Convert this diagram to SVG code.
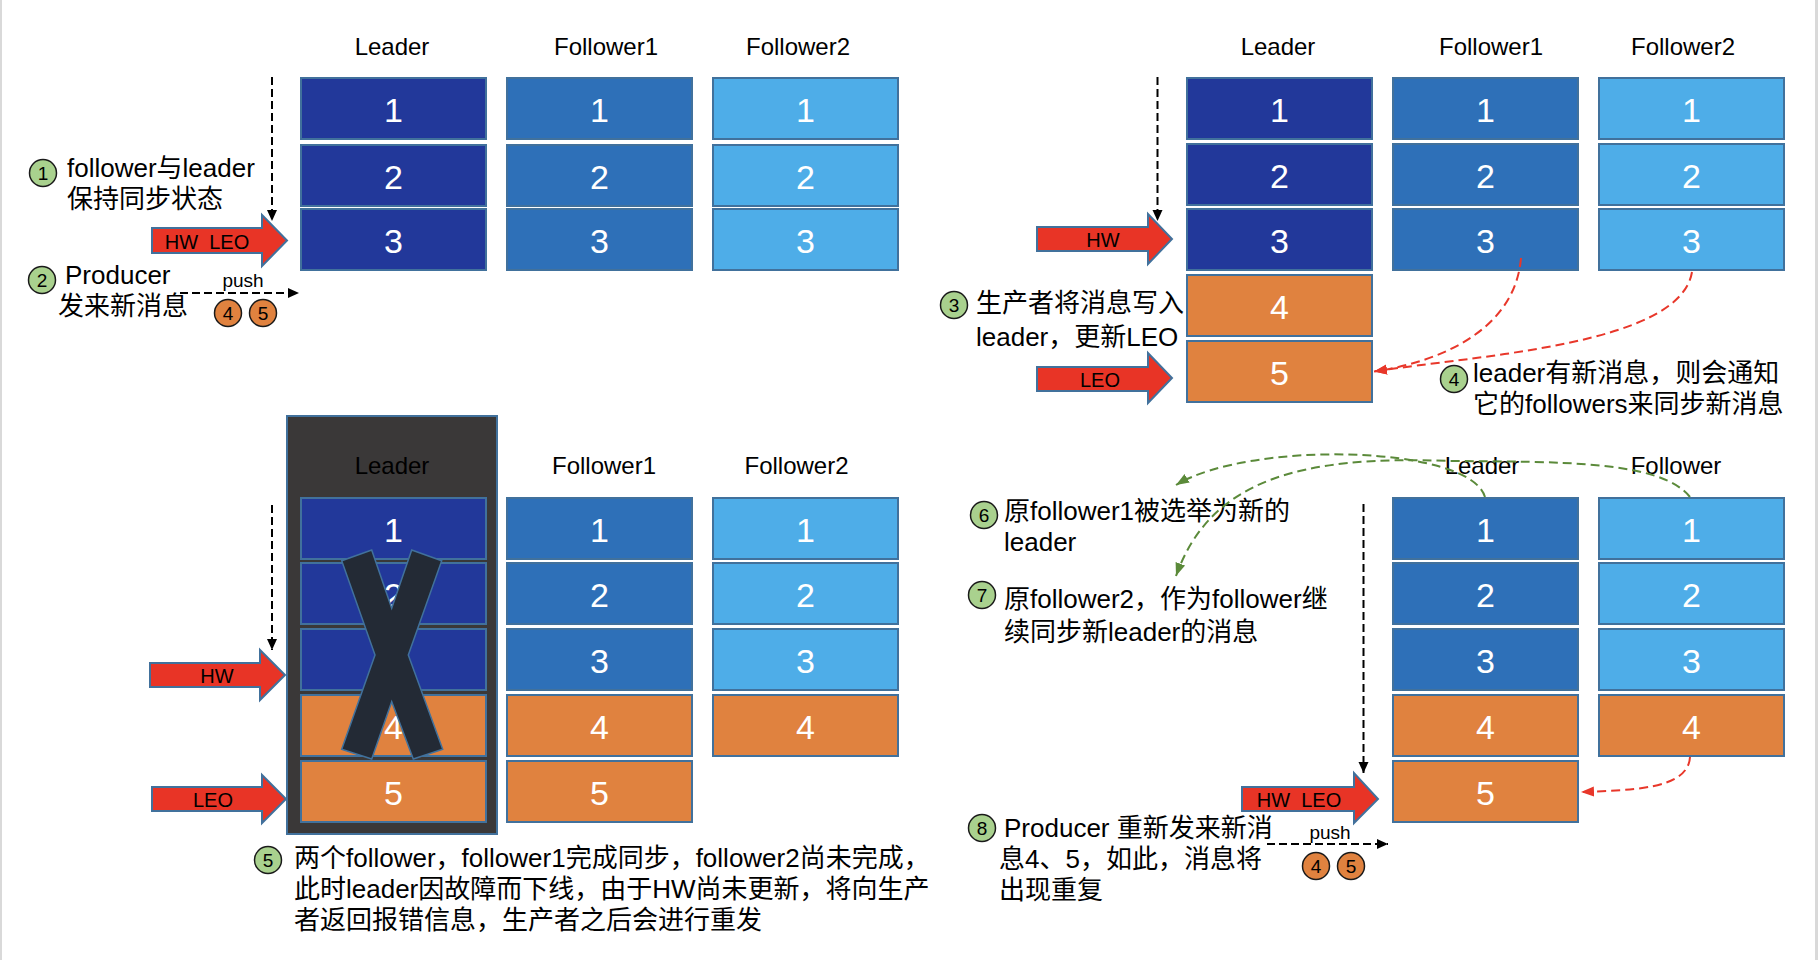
<svg xmlns="http://www.w3.org/2000/svg" width="1818" height="960" viewBox="0 0 1818 960">
<style>
text{font-family:"Liberation Sans","Noto Sans CJK SC",sans-serif;}
.bg{fill:#ffffff;}
.frame{fill:#D9D9D9;}
.cell{stroke:#41719C;stroke-width:2;}
.ld{fill:#22389A;}
.f1{fill:#2E70B8;}
.f2{fill:#4EADE8;}
.or{fill:#E0823F;}
.num{font-size:34px;fill:#ffffff;text-anchor:middle;}
.hdr{font-size:24px;fill:#000000;text-anchor:middle;}
.txt{font-size:26px;fill:#000000;}
.arrow{fill:#E83426;stroke:#41719C;stroke-width:2;}
.atx{font-size:20px;fill:#000000;text-anchor:middle;}
.gc{fill:#A9D18E;stroke:#1A1A1A;stroke-width:1.5;}
.oc{fill:#E0823F;stroke:#1A1A1A;stroke-width:1.5;}
.cn{font-size:19px;fill:#000000;text-anchor:middle;}
.push{font-size:19px;fill:#000000;text-anchor:middle;}
.dk{fill:none;stroke:#000000;stroke-width:2;stroke-dasharray:8 4;}
.dr{fill:none;stroke:#E8372A;stroke-width:2;stroke-dasharray:9 5;}
.dg{fill:none;stroke:#5B8A3A;stroke-width:2;stroke-dasharray:9 5;}
</style>
<defs>
<marker id="mk" markerUnits="userSpaceOnUse" markerWidth="12" markerHeight="12" refX="11" refY="6" orient="auto"><path d="M0,1 L11,6 L0,11 z" fill="#000000"/></marker>
<marker id="mr" markerUnits="userSpaceOnUse" markerWidth="14" markerHeight="12" refX="13" refY="6" orient="auto"><path d="M0,1 L13,6 L0,11 z" fill="#E8372A"/></marker>
<marker id="mg" markerUnits="userSpaceOnUse" markerWidth="14" markerHeight="12" refX="13" refY="6" orient="auto"><path d="M0,1 L13,6 L0,11 z" fill="#5B8A3A"/></marker>
</defs>
<rect class="bg" x="0" y="0" width="1818" height="960"/>
<rect class="frame" x="0" y="0" width="2" height="960"/>
<rect class="frame" x="1815" y="0" width="3" height="960"/>

<!-- ===== Top-left panel ===== -->
<g id="tl-headers">
<text class="hdr" x="392" y="54.5">Leader</text>
<text class="hdr" x="606" y="54.5">Follower1</text>
<text class="hdr" x="798" y="54.5">Follower2</text>
</g>
<g id="tl-leader">
<rect class="cell ld" x="301" y="78" width="185" height="61"/><text class="num" x="393.5" y="121.5">1</text>
<rect class="cell ld" x="301" y="145" width="185" height="61"/><text class="num" x="393.5" y="188.5">2</text>
<rect class="cell ld" x="301" y="209" width="185" height="61"/><text class="num" x="393.5" y="252.5">3</text>
</g>
<g id="tl-follower1">
<rect class="cell f1" x="507" y="78" width="185" height="61"/><text class="num" x="599.5" y="121.5">1</text>
<rect class="cell f1" x="507" y="145" width="185" height="61"/><text class="num" x="599.5" y="188.5">2</text>
<rect class="cell f1" x="507" y="209" width="185" height="61"/><text class="num" x="599.5" y="252.5">3</text>
</g>
<g id="tl-follower2">
<rect class="cell f2" x="713" y="78" width="185" height="61"/><text class="num" x="805.5" y="121.5">1</text>
<rect class="cell f2" x="713" y="145" width="185" height="61"/><text class="num" x="805.5" y="188.5">2</text>
<rect class="cell f2" x="713" y="209" width="185" height="61"/><text class="num" x="805.5" y="252.5">3</text>
</g>
<g id="tl-hwleo">
<polygon class="arrow" points="152,228 262,228 262,215 287,240.5 262,266 262,253 152,253"/>
<text class="atx" x="207" y="249">HW&#160;&#160;LEO</text>
</g>
<g id="tl-step1">
<circle class="gc" cx="43" cy="173" r="13.5"/><text class="cn" x="43" y="180">1</text>
<text class="txt" x="67" y="177">follower与leader</text>
<text class="txt" x="67" y="208">保持同步状态</text>
</g>
<g id="tl-step2">
<circle class="gc" cx="42" cy="280" r="13.5"/><text class="cn" x="42" y="287">2</text>
<text class="txt" x="65" y="284">Producer</text>
<text class="txt" x="58" y="315">发来新消息</text>
</g>
<g id="tl-msgs">
<text class="push" x="243" y="287">push</text>
<circle class="oc" cx="228" cy="313" r="13.5"/><text class="cn" x="228" y="320">4</text>
<circle class="oc" cx="263" cy="313" r="13.5"/><text class="cn" x="263" y="320">5</text>
</g>

<!-- ===== Top-right panel ===== -->
<g id="tr-headers">
<text class="hdr" x="1278" y="54.5">Leader</text>
<text class="hdr" x="1491" y="54.5">Follower1</text>
<text class="hdr" x="1683" y="54.5">Follower2</text>
</g>
<g id="tr-leader">
<rect class="cell ld" x="1187" y="78" width="185" height="61"/><text class="num" x="1279.5" y="121.5">1</text>
<rect class="cell ld" x="1187" y="144" width="185" height="61"/><text class="num" x="1279.5" y="187.5">2</text>
<rect class="cell ld" x="1187" y="209" width="185" height="61"/><text class="num" x="1279.5" y="252.5">3</text>
<rect class="cell or" x="1187" y="275" width="185" height="61"/><text class="num" x="1279.5" y="318.5">4</text>
<rect class="cell or" x="1187" y="341" width="185" height="61"/><text class="num" x="1279.5" y="384.5">5</text>
</g>
<g id="tr-follower1">
<rect class="cell f1" x="1393" y="78" width="185" height="61"/><text class="num" x="1485.5" y="121.5">1</text>
<rect class="cell f1" x="1393" y="144" width="185" height="61"/><text class="num" x="1485.5" y="187.5">2</text>
<rect class="cell f1" x="1393" y="209" width="185" height="61"/><text class="num" x="1485.5" y="252.5">3</text>
</g>
<g id="tr-follower2">
<rect class="cell f2" x="1599" y="78" width="185" height="61"/><text class="num" x="1691.5" y="121.5">1</text>
<rect class="cell f2" x="1599" y="144" width="185" height="61"/><text class="num" x="1691.5" y="187.5">2</text>
<rect class="cell f2" x="1599" y="209" width="185" height="61"/><text class="num" x="1691.5" y="252.5">3</text>
</g>
<g id="tr-hw">
<polygon class="arrow" points="1037,227 1148,227 1148,214 1172,239 1148,264 1148,251 1037,251"/>
<text class="atx" x="1103" y="247">HW</text>
</g>
<g id="tr-leo">
<polygon class="arrow" points="1037,367 1148,367 1148,353 1172,378 1148,403 1148,391 1037,391"/>
<text class="atx" x="1100" y="387">LEO</text>
</g>
<g id="tr-step3">
<circle class="gc" cx="954" cy="305" r="13.5"/><text class="cn" x="954" y="312">3</text>
<text class="txt" x="976" y="312">生产者将消息写入</text>
<text class="txt" x="976" y="346">leader，更新LEO</text>
</g>
<g id="tr-step4">
<circle class="gc" cx="1454" cy="379" r="13.5"/><text class="cn" x="1454" y="386">4</text>
<text class="txt" x="1473" y="382">leader有新消息，则会通知</text>
<text class="txt" x="1473" y="413">它的followers来同步新消息</text>
</g>

<!-- ===== Bottom-left panel ===== -->
<g id="bl-leader">
<rect x="287" y="416" width="210" height="418" fill="#3A3838" stroke="#41719C" stroke-width="2"/>
<text class="hdr" x="392" y="474">Leader</text>
<rect class="cell ld" x="301" y="498" width="185" height="61"/><text class="num" x="393.5" y="541.5">1</text>
<rect class="cell ld" x="301" y="563" width="185" height="61"/><text class="num" x="393.5" y="606.5">2</text>
<rect class="cell ld" x="301" y="629" width="185" height="61"/><text class="num" x="393.5" y="672.5">3</text>
<rect class="cell or" x="301" y="695" width="185" height="61"/><text class="num" x="393.5" y="738.5">4</text>
<rect class="cell or" x="301" y="761" width="185" height="61"/><text class="num" x="393.5" y="804.5">5</text>
<polygon points="341.7,560.7 371.7,550 391.7,608.3 411.7,550 441.7,560.7 408.3,655 442.7,749.3 413.3,759 391.7,701.7 371.7,759 341.7,749.3 375,655" fill="#232A35" stroke="#41719C" stroke-width="1.5"/>
</g>
<g id="bl-headers">
<text class="hdr" x="604" y="474">Follower1</text>
<text class="hdr" x="796.5" y="474">Follower2</text>
</g>
<g id="bl-follower1">
<rect class="cell f1" x="507" y="498" width="185" height="61"/><text class="num" x="599.5" y="541.5">1</text>
<rect class="cell f1" x="507" y="563" width="185" height="61"/><text class="num" x="599.5" y="606.5">2</text>
<rect class="cell f1" x="507" y="629" width="185" height="61"/><text class="num" x="599.5" y="672.5">3</text>
<rect class="cell or" x="507" y="695" width="185" height="61"/><text class="num" x="599.5" y="738.5">4</text>
<rect class="cell or" x="507" y="761" width="185" height="61"/><text class="num" x="599.5" y="804.5">5</text>
</g>
<g id="bl-follower2">
<rect class="cell f2" x="713" y="498" width="185" height="61"/><text class="num" x="805.5" y="541.5">1</text>
<rect class="cell f2" x="713" y="563" width="185" height="61"/><text class="num" x="805.5" y="606.5">2</text>
<rect class="cell f2" x="713" y="629" width="185" height="61"/><text class="num" x="805.5" y="672.5">3</text>
<rect class="cell or" x="713" y="695" width="185" height="61"/><text class="num" x="805.5" y="738.5">4</text>
</g>
<g id="bl-hw">
<polygon class="arrow" points="150,663 260,663 260,650 285,675 260,700 260,687 150,687"/>
<text class="atx" x="217" y="683">HW</text>
</g>
<g id="bl-leo">
<polygon class="arrow" points="152,787 262,787 262,775 286,799 262,823 262,811 152,811"/>
<text class="atx" x="213" y="807">LEO</text>
</g>
<g id="bl-step5">
<circle class="gc" cx="268" cy="860" r="13.5"/><text class="cn" x="268" y="867">5</text>
<text class="txt" x="294" y="867">两个follower，follower1完成同步，follower2尚未完成，</text>
<text class="txt" x="294" y="898">此时leader因故障而下线，由于HW尚未更新，将向生产</text>
<text class="txt" x="294" y="929">者返回报错信息，生产者之后会进行重发</text>
</g>

<!-- ===== Bottom-right panel ===== -->
<g id="br-headers">
<text class="hdr" x="1482" y="474">Leader</text>
<text class="hdr" x="1676" y="474">Follower</text>
</g>
<g id="br-leader">
<rect class="cell f1" x="1393" y="498" width="185" height="61"/><text class="num" x="1485.5" y="541.5">1</text>
<rect class="cell f1" x="1393" y="563" width="185" height="61"/><text class="num" x="1485.5" y="606.5">2</text>
<rect class="cell f1" x="1393" y="629" width="185" height="61"/><text class="num" x="1485.5" y="672.5">3</text>
<rect class="cell or" x="1393" y="695" width="185" height="61"/><text class="num" x="1485.5" y="738.5">4</text>
<rect class="cell or" x="1393" y="761" width="185" height="61"/><text class="num" x="1485.5" y="804.5">5</text>
</g>
<g id="br-follower">
<rect class="cell f2" x="1599" y="498" width="185" height="61"/><text class="num" x="1691.5" y="541.5">1</text>
<rect class="cell f2" x="1599" y="563" width="185" height="61"/><text class="num" x="1691.5" y="606.5">2</text>
<rect class="cell f2" x="1599" y="629" width="185" height="61"/><text class="num" x="1691.5" y="672.5">3</text>
<rect class="cell or" x="1599" y="695" width="185" height="61"/><text class="num" x="1691.5" y="738.5">4</text>
</g>
<g id="br-hwleo">
<polygon class="arrow" points="1242,787 1354,787 1354,773 1378,799 1354,823 1354,811 1242,811"/>
<text class="atx" x="1299" y="807">HW&#160;&#160;LEO</text>
</g>
<g id="br-step6">
<circle class="gc" cx="984" cy="515" r="13.5"/><text class="cn" x="984" y="522">6</text>
<text class="txt" x="1004" y="520">原follower1被选举为新的</text>
<text class="txt" x="1004" y="551">leader</text>
</g>
<g id="br-step7">
<circle class="gc" cx="982" cy="595" r="13.5"/><text class="cn" x="982" y="602">7</text>
<text class="txt" x="1004" y="608">原follower2，作为follower继</text>
<text class="txt" x="1004" y="641">续同步新leader的消息</text>
</g>
<g id="br-step8">
<circle class="gc" cx="982" cy="828" r="13.5"/><text class="cn" x="982" y="835">8</text>
<text class="txt" x="1004" y="837">Producer 重新发来新消</text>
<text class="txt" x="999" y="868">息4、5，如此，消息将</text>
<text class="txt" x="999" y="899">出现重复</text>
</g>
<g id="br-msgs">
<text class="push" x="1330" y="839">push</text>
<circle class="oc" cx="1316" cy="866" r="13.5"/><text class="cn" x="1316" y="873">4</text>
<circle class="oc" cx="1351" cy="866" r="13.5"/><text class="cn" x="1351" y="873">5</text>
</g>

<!-- ===== Connectors ===== -->
<g id="connectors">
<path class="dk" d="M272,77 L272,221" marker-end="url(#mk)"/>
<path class="dk" d="M180,293 L299,293" marker-end="url(#mk)"/>
<path class="dk" d="M1157.5,77 L1157.5,221" marker-end="url(#mk)"/>
<path class="dk" d="M272,505 L272,650" marker-end="url(#mk)"/>
<path class="dk" d="M1363.5,504 L1363.5,773" marker-end="url(#mk)"/>
<path class="dk" d="M1267,844 L1388,844" marker-end="url(#mk)"/>
<path class="dr" d="M1521,258 C1515,330 1440,362 1374,371.5" marker-end="url(#mr)"/>
<path class="dr" d="M1692,272 C1680,345 1480,355 1374,371.5" marker-end="url(#mr)"/>
<path class="dr" d="M1690,757 C1688,790 1630,790 1581,792" marker-end="url(#mr)"/>
<path class="dg" d="M1485,497 C1470,445 1250,440 1176,485" marker-end="url(#mg)"/>
<path class="dg" d="M1690,497 C1660,460 1560,462 1450,461 C1300,455 1210,480 1176,576" marker-end="url(#mg)"/>
</g>
</svg>
